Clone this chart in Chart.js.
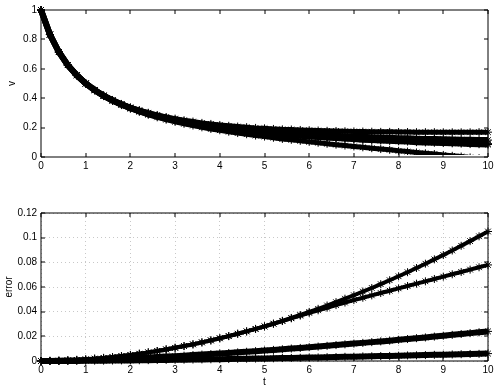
<!DOCTYPE html>
<html>
<head>
<meta charset="utf-8">
<script src="https://cdn.jsdelivr.net/npm/chart.js@4.4.0/dist/chart.umd.min.js"></script>
<style>
  html, body { margin: 0; padding: 0; background: #fff; }
  #wrap { width: 498px; height: 390px; position: relative; }
  canvas { position: absolute; left: 0; }
  #topChart { top: 0; }
  #bottomChart { top: 195px; }
</style>
</head>
<body>
<div id="wrap">
  <canvas id="topChart" width="498" height="195"></canvas>
  <canvas id="bottomChart" width="498" height="195"></canvas>
</div>
<script>
// time samples
const tValues = [0,0.2,0.4,0.6,0.8,1,1.2,1.4,1.6,1.8,2,2.2,2.4,2.6,2.8,3,3.2,3.4,3.6,3.8,4,
  4.2,4.4,4.6,4.8,5,5.2,5.4,5.6,5.8,6,6.2,6.4,6.6,6.8,7,7.2,7.4,7.6,7.8,8,
  8.2,8.4,8.6,8.8,9,9.2,9.4,9.6,9.8,10];

// top panel: v(t)
const vExact = [1.000,0.833,0.714,0.625,0.556,0.500,0.455,0.417,0.385,0.357,0.333,0.313,0.294,0.278,0.263,0.250,
  0.238,0.227,0.217,0.208,0.200,0.192,0.185,0.179,0.172,0.167,0.161,0.156,0.152,0.147,0.143,
  0.139,0.135,0.132,0.128,0.125,0.122,0.119,0.116,0.114,0.111,0.109,0.106,0.104,0.102,0.100,
  0.098,0.096,0.094,0.093,0.091];
const vLow = [1.000,0.833,0.714,0.625,0.555,0.499,0.453,0.414,0.381,0.353,0.328,0.307,0.287,0.270,0.254,0.239,
  0.226,0.214,0.202,0.191,0.182,0.172,0.163,0.155,0.146,0.139,0.131,0.123,0.117,0.110,0.103,
  0.097,0.090,0.084,0.078,0.072,0.066,0.060,0.054,0.049,0.042,0.037,0.031,0.025,0.020,0.014,
  0.008,0.003,-0.003,-0.008,-0.014];
const vHigh = [1.000,0.833,0.714,0.626,0.557,0.501,0.457,0.419,0.388,0.361,0.338,0.319,0.301,0.286,0.272,0.261,
  0.250,0.241,0.232,0.225,0.218,0.212,0.207,0.203,0.198,0.195,0.191,0.188,0.187,0.184,0.182,
  0.180,0.178,0.177,0.175,0.174,0.173,0.172,0.171,0.171,0.170,0.170,0.169,0.169,0.169,0.168,
  0.168,0.168,0.168,0.169,0.169];
const vMidHigh = [1.000,0.833,0.714,0.625,0.556,0.501,0.456,0.418,0.386,0.359,0.335,0.315,0.297,0.281,0.267,0.254,
  0.242,0.232,0.222,0.214,0.206,0.199,0.192,0.186,0.180,0.175,0.170,0.166,0.162,0.158,0.154,
  0.151,0.147,0.145,0.142,0.139,0.137,0.134,0.132,0.131,0.128,0.127,0.125,0.123,0.122,0.121,
  0.119,0.118,0.117,0.116,0.115];
const vMidLow = [1.000,0.833,0.714,0.625,0.556,0.500,0.454,0.416,0.384,0.357,0.333,0.312,0.293,0.277,0.262,0.249,
  0.237,0.226,0.216,0.207,0.199,0.190,0.183,0.177,0.170,0.165,0.159,0.154,0.149,0.144,0.140,
  0.136,0.132,0.129,0.125,0.122,0.118,0.115,0.112,0.110,0.107,0.105,0.101,0.099,0.097,0.095,
  0.093,0.091,0.088,0.087,0.085];

// bottom panel: error(t)
const err1 = [0,0.0001,0.0002,0.0005,0.0009,0.0013,0.0019,0.0025,0.0032,0.0040,0.0049,0.0059,0.0070,0.0081,0.0094,0.0107,
  0.0121,0.0135,0.0151,0.0167,0.0184,0.0202,0.0221,0.0240,0.0260,0.0281,0.0303,0.0326,0.0349,0.0373,0.0398,
  0.0423,0.0450,0.0477,0.0505,0.0533,0.0563,0.0592,0.0623,0.0655,0.0687,0.0720,0.0754,0.0789,0.0824,0.0859,
  0.0896,0.0934,0.0972,0.1011,0.1050];
const err2 = [0,0.0001,0.0002,0.0005,0.0009,0.0013,0.0019,0.0025,0.0032,0.0040,0.0049,0.0059,0.0070,0.0081,0.0094,0.0107,
  0.0121,0.0135,0.0151,0.0167,0.0184,0.0202,0.0221,0.0240,0.0260,0.0280,0.0302,0.0324,0.0346,0.0368,0.0390,
  0.0411,0.0432,0.0453,0.0474,0.0494,0.0513,0.0532,0.0551,0.0570,0.0589,0.0608,0.0627,0.0646,0.0665,0.0684,
  0.0703,0.0722,0.0741,0.0760,0.0779];
const err3 = [0,0.0001,0.0002,0.0004,0.0005,0.0008,0.0010,0.0013,0.0015,0.0018,0.0021,0.0025,0.0028,0.0032,0.0036,0.0039,
  0.0043,0.0048,0.0052,0.0056,0.0061,0.0065,0.0070,0.0075,0.0080,0.0085,0.0090,0.0095,0.0101,0.0106,0.0112,
  0.0117,0.0123,0.0129,0.0135,0.0141,0.0147,0.0153,0.0159,0.0165,0.0172,0.0178,0.0185,0.0191,0.0198,0.0205,
  0.0212,0.0219,0.0226,0.0233,0.0240];
const err4 = [0,0,0.0001,0.0001,0.0001,0.0002,0.0003,0.0003,0.0004,0.0005,0.0005,0.0006,0.0007,0.0008,0.0009,0.0010,
  0.0011,0.0012,0.0013,0.0014,0.0015,0.0016,0.0018,0.0019,0.0020,0.0021,0.0022,0.0024,0.0025,0.0026,0.0028,
  0.0029,0.0031,0.0032,0.0034,0.0035,0.0037,0.0038,0.0040,0.0041,0.0043,0.0045,0.0046,0.0048,0.0050,0.0051,
  0.0053,0.0055,0.0057,0.0058,0.0060];

// tick labels
const xTicks = [0,1,2,3,4,5,6,7,8,9,10];
const vTicks = [0,0.2,0.4,0.6,0.8,1];
const errTicks = [0,0.02,0.04,0.06,0.08,0.1,0.12];

Chart.defaults.font.family = "'Liberation Sans', Arial, sans-serif";
Chart.defaults.font.size = 10;
Chart.defaults.color = "#000";

function makeSet(values, lineW, clip) {
  return {
    data: values.map((v, i) => ({ x: tValues[i], y: v })),
    showLine: true,
    borderColor: "#000",
    borderWidth: lineW,
    pointStyle: "star",
    pointRadius: 4,
    pointBorderWidth: 1,
    pointBorderColor: "#000",
    pointBackgroundColor: "#000",
    clip: clip
  };
}

// box + inward ticks, matlab style
const boxPlugin = {
  id: "box",
  afterDatasetsDraw(chart) {
    const { ctx, chartArea: a, scales } = chart;
    ctx.save();
    ctx.strokeStyle = "#000";
    ctx.lineWidth = 1;
    ctx.beginPath();
    ctx.rect(a.left, a.top, a.right - a.left, a.bottom - a.top);
    scales.x.ticks.forEach(tk => {
      const px = Math.round(scales.x.getPixelForValue(tk.value));
      ctx.moveTo(px, a.bottom); ctx.lineTo(px, a.bottom - 4);
      ctx.moveTo(px, a.top); ctx.lineTo(px, a.top + 4);
    });
    scales.y.ticks.forEach(tk => {
      const py = Math.round(scales.y.getPixelForValue(tk.value));
      ctx.moveTo(a.left, py); ctx.lineTo(a.left + 4, py);
      ctx.moveTo(a.right, py); ctx.lineTo(a.right - 4, py);
    });
    ctx.stroke();
    ctx.restore();
  }
};

function fmt(v) { return String(+Number(v).toFixed(2)); }

function axes(yTicks, yMax, yTitle, yTitlePad, xHeight, showGrid, xTitle) {
  const gridOpts = showGrid
    ? { display: true, color: "#c8c8c8", lineWidth: 1, drawTicks: false }
    : { display: false, drawTicks: false };
  return {
    x: {
      type: "linear", min: 0, max: 10,
      afterBuildTicks: s => { s.ticks = xTicks.map(v => ({ value: v })); },
      afterFit: s => { s.height = xHeight; },
      ticks: { padding: 3, callback: fmt, maxRotation: 0 },
      grid: gridOpts,
      border: { display: false, dash: [1, 3] },
      title: xTitle ? { display: true, text: xTitle, padding: { top: 0, bottom: 2 } } : { display: false }
    },
    y: {
      min: 0, max: yMax,
      afterBuildTicks: s => { s.ticks = yTicks.map(v => ({ value: v })); },
      afterFit: s => { s.width = 41; },
      ticks: { padding: 4, callback: fmt },
      grid: gridOpts,
      border: { display: false, dash: [1, 3] },
      title: { display: true, text: yTitle, padding: { top: yTitlePad, bottom: 0 } }
    }
  };
}

// lower curve dips below zero near the end; hide that part like the original
const topClip = { left: 6, top: 6, right: 6, bottom: -2 };
new Chart(document.getElementById("topChart"), {
  type: "scatter",
  data: {
    datasets: [
      makeSet(vExact, 6, topClip),
      makeSet(vMidLow, 6, topClip),
      makeSet(vMidHigh, 6, topClip),
      makeSet(vLow, 5, topClip),
      makeSet(vHigh, 5, topClip)
    ]
  },
  options: {
    responsive: false,
    animation: false,
    events: [],
    layout: { padding: { left: 0, top: 10, right: 10, bottom: 18 } },
    plugins: { legend: { display: false }, tooltip: { enabled: false } },
    scales: axes(vTicks, 1, "v", 6, 20, false, null)
  },
  plugins: [boxPlugin]
});

const botClip = { left: 6, top: 6, right: 6, bottom: 6 };
new Chart(document.getElementById("bottomChart"), {
  type: "scatter",
  data: {
    datasets: [
      makeSet(err1, 4, botClip),
      makeSet(err2, 4, botClip),
      makeSet(err3, 6, botClip),
      makeSet(err4, 6, botClip)
    ]
  },
  options: {
    responsive: false,
    animation: false,
    events: [],
    layout: { padding: { left: 0, top: 18, right: 10, bottom: 0 } },
    plugins: { legend: { display: false }, tooltip: { enabled: false } },
    scales: axes(errTicks, 0.12, "error", 3, 29, true, "t")
  },
  plugins: [boxPlugin]
});
</script>
</body>
</html>
